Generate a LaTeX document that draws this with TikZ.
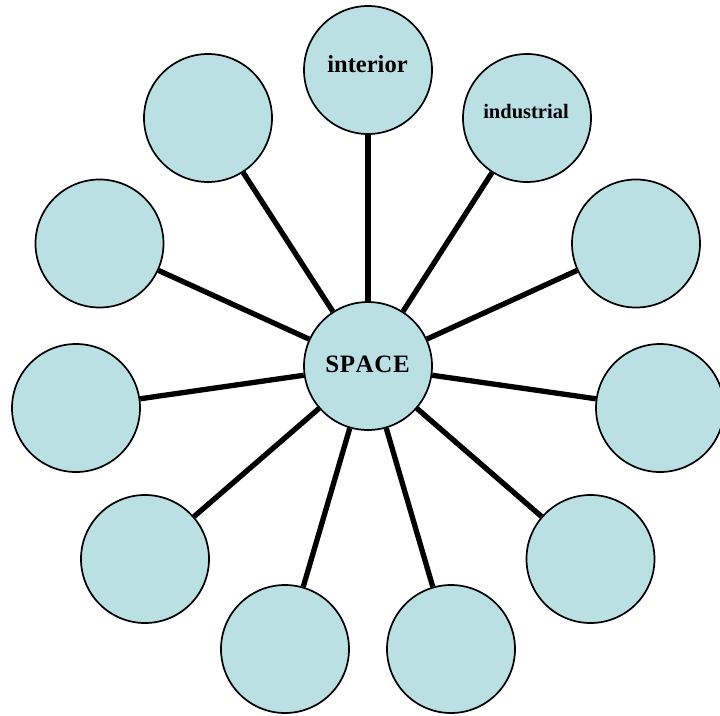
\documentclass[tikz,border=0pt]{standalone}
\usepackage{fontspec}
\setmainfont{Liberation Serif}
\definecolor{bub}{RGB}{187,224,228}
\tikzset{
  bubble/.style={circle, draw=black, line width=1.7pt, fill=bub, minimum size=128pt, inner sep=0pt},
  spoke/.style={line width=5.3pt, black},
  lbl/.style={font=\bfseries, inner sep=0pt, anchor=base}
}
\begin{document}
\begin{tikzpicture}[x=1pt,y=1pt]
\useasboundingbox (0,0) rectangle (720,-715);
\node[bubble] (c) at (368,-366) {};
\node[bubble] (n1) at (368,-70) {};
\node[bubble] (n2) at (527,-118) {};
\node[bubble] (n3) at (636,-243.5) {};
\node[bubble] (n4) at (660,-408) {};
\node[bubble] (n5) at (590.5,-559) {};
\node[bubble] (n6) at (451,-649) {};
\node[bubble] (n7) at (285,-649) {};
\node[bubble] (n8) at (145,-559) {};
\node[bubble] (n9) at (76,-408) {};
\node[bubble] (n10) at (99.5,-243.5) {};
\node[bubble] (n11) at (208,-118) {};
\foreach \i in {1,...,11} \draw[spoke] (c) -- (n\i);
\node[lbl, font=\bfseries\fontsize{25}{28}\selectfont] (t0) at (367.5,-372.5) {S\kern0.6pt P\kern0.6pt A\kern0.6pt C\kern0.6pt E};
\node[lbl, font=\bfseries\fontsize{24.5}{28}\selectfont] (t1) at (367.5,-72) {interior};
\node[lbl, font=\bfseries\fontsize{20.5}{24}\selectfont] (t2) at (526,-118) {industrial};
\end{tikzpicture}
\end{document}
